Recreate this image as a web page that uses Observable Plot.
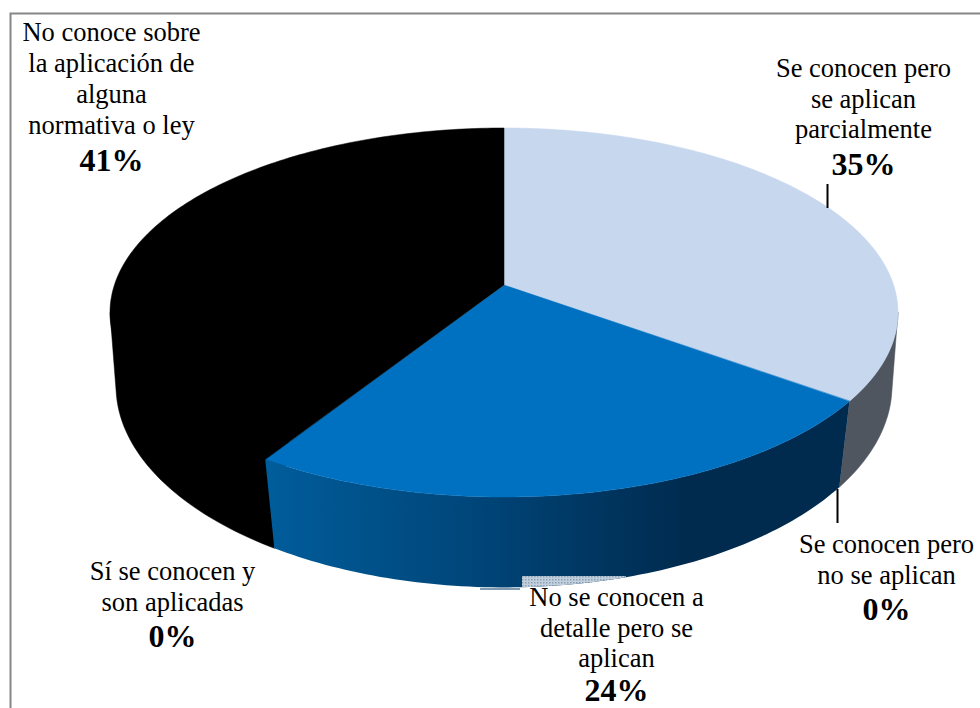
<!DOCTYPE html>
<html lang="es">
<head>
<meta charset="utf-8">
<title>Conocimiento y aplicación de normativa</title>
<script src="https://cdn.jsdelivr.net/npm/d3@7"></script>
<script src="https://cdn.jsdelivr.net/npm/@observablehq/plot@0.6"></script>
<style>
  html, body { margin: 0; padding: 0; background: #fff; }
  svg { display: block; }
</style>
</head>
<body>
<div id="chart"></div>
<script>
// Shares of each answer, clockwise from twelve o'clock.
const categories = [
  "Se conocen pero se aplican parcialmente",
  "Se conocen pero no se aplican",
  "No se conocen a detalle pero se aplican",
  "Sí se conocen y son aplicadas",
  "No conoce sobre la aplicación de alguna normativa o ley"
];
const shares = [35, 0, 24, 0, 41];
const topColors = ["#c6d7ee", "#4f5660", "#0070c0", "#7f7f7f", "#000000"];
const labelLines = [
  ["Se conocen pero", "se aplican", "parcialmente"],
  ["Se conocen pero", "no se aplican"],
  ["No se conocen a", "detalle pero se", "aplican"],
  ["Sí se conocen y", "son aplicadas"],
  ["No conoce sobre", "la aplicación de", "alguna", "normativa o ley"]
];

// Where each label block sits: centre x, centre y of its first line,
// and the distance from its last line to the percentage.
const labelX = [863, 886, 616, 172, 111];
const labelY = [68, 544, 597, 571, 32.5];
const percentGap = [35, 35, 32, 35, 36];
const lineStep = 30.7;

// Perspective discs: the upper face of the pie and the rim of its base.
const upperDisc = {cx: 504, cy: 285, a: 389.6, b: 180.4, k: 0.149};
const lowerDisc = {cx: 504, cy: 361.5, a: 385.2, b: 198.8, k: 0.12};
// Same face, pulled inward; the black wall starts here so it overlaps its face.
const innerDisc = {...upperDisc, a: upperDisc.a * 0.9, b: upperDisc.b * 0.9};

function onDisc(disc, degrees) {
  const t = degrees * Math.PI / 180;
  const u = Math.sin(t), v = Math.cos(t);
  const w = 1 + disc.k * v;
  return [disc.cx + disc.a * u / w, disc.cy - disc.b * v / w];
}

function sweep(from, to) {
  const out = [];
  const n = Math.max(2, Math.ceil(Math.abs(to - from)));
  for (let i = 0; i <= n; ++i) out.push(from + (to - from) * i / n);
  return out;
}

// Cumulative start and end angles derived from the shares.
let running = 0;
const slices = shares.map((share, i) => {
  const start = running * 3.6;
  running += share;
  return {category: categories[i], share, start, end: running * 3.6, color: topColors[i]};
});
const visible = slices.filter((s) => s.share > 0);
const [light, blue, black] = visible;

// Angle at which the upper face reaches its widest point, right and left;
// the side walls of the pie end on these silhouette lines.
const silhouetteRight = Math.acos(-upperDisc.k) * 180 / Math.PI;
const silhouetteLeft = 360 - silhouetteRight;

// A side wall: band between an upper edge and the base rim.
const wall = (from, to, disc = upperDisc) => sweep(from, to).map((deg) => {
  const [x1, y1] = onDisc(disc, deg);
  const [x2, y2] = onDisc(lowerDisc, deg);
  return {x1, y1, x2, y2};
});
// A face wedge: fan from the disc's centre to its edge.
const wedge = (s) => sweep(s.start, s.end).map((deg) => {
  const [x2, y2] = onDisc(upperDisc, deg);
  return {x1: upperDisc.cx, y1: upperDisc.cy, x2, y2};
});
const band = (rows, fill) => Plot.area(rows, {
  x1: "x1", y1: "y1", x2: "x2", y2: "y2", fill,
  stroke: fill.startsWith("url") ? "none" : fill, strokeWidth: 0.5
});

// The black wall, closed on the true silhouette point of the face.
const blackWall = [
  ...wall(black.start, silhouetteLeft, innerDisc),
  ...wall(silhouetteLeft, silhouetteLeft).slice(-1)
];

// The stippled sliver where the centre label's box overlaps the rim.
const stippleTop = 576;
const stippleLeft = 520;
const stippleRows = sweep(blue.start, blue.end).map((deg) => onDisc(lowerDisc, deg))
  .filter(([x, y]) => x >= stippleLeft && y > stippleTop)
  .map(([x, y]) => ({x1: x, y1: stippleTop, x2: x, y2: y}));

const labelRows = labelLines.flatMap((lines, i) => lines.map((text, j) => ({
  text, x: labelX[i], y: labelY[i] + j * lineStep
})));
const percentRows = shares.map((share, i) => ({
  text: `${share}%`,
  x: labelX[i],
  y: labelY[i] + (labelLines[i].length - 1) * lineStep + percentGap[i]
}));

// Horizontal shading of the blue slice's side, and the stipple pattern.
function paintServers() {
  const defs = d3.create("svg:defs");
  const g = defs.append("linearGradient").attr("id", "rimShade");
  [[0, "#005d9b"], [0.35, "#00467a"], [0.72, "#002b4f"], [1, "#002b4f"]].forEach(([o, c]) => {
    g.append("stop").attr("offset", o).attr("stop-color", c);
  });
  const p = defs.append("pattern").attr("id", "stipple")
    .attr("patternUnits", "userSpaceOnUse").attr("width", 3).attr("height", 3);
  p.append("rect").attr("width", 3).attr("height", 3).attr("fill", "#c3d0dc");
  p.append("rect").attr("width", 1.5).attr("height", 1.5).attr("fill", "#8aa2b8");
  return defs.node();
}

const serif = "'Liberation Serif', 'Times New Roman', serif";

const plot = Plot.plot({
  width: 980,
  height: 708,
  margin: 0,
  style: {background: "#fff"},
  x: {domain: [0, 980], range: [0, 980], axis: null},
  y: {domain: [0, 708], range: [0, 708], axis: null},
  marks: [
    paintServers,
    Plot.frame({stroke: "#868686", strokeWidth: 2, insetLeft: 10, insetTop: 13, insetRight: -4, insetBottom: -4}),
    band(blackWall, black.color),
    band(wall(silhouetteRight, light.end), "#4f5660"),
    band(wall(blue.start, blue.end), "url(#rimShade)"),
    ...visible.map((s) => band(wedge(s), s.color)),
    band(stippleRows, "url(#stipple)"),
    Plot.ruleY([588.5], {x1: 480, x2: stippleLeft, stroke: "#7f9ab0", strokeWidth: 2}),
    Plot.ruleX([827], {y1: 184, y2: 208, stroke: "#000", strokeWidth: 2}),
    Plot.ruleX([837], {y1: 489, y2: 523, stroke: "#000", strokeWidth: 2}),
    Plot.text(labelRows, {x: "x", y: "y", text: "text", fontFamily: serif, fontSize: 26.5, fill: "#000"}),
    Plot.text(percentRows, {x: "x", y: "y", text: "text", fontFamily: serif, fontSize: 32, fontWeight: "bold", fill: "#000"})
  ]
});
document.getElementById("chart").append(plot);
</script>
</body>
</html>
